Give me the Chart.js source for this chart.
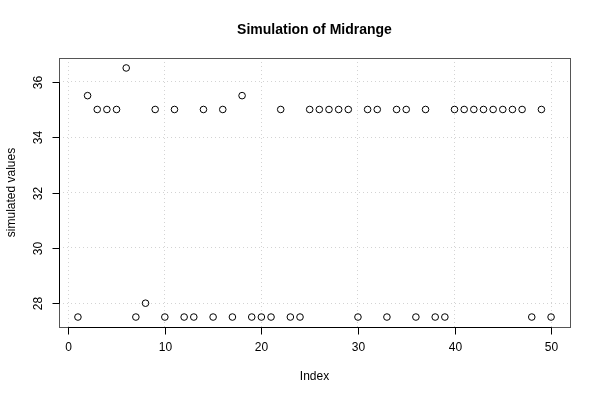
<!DOCTYPE html>
<html>
<head>
<meta charset="utf-8">
<script src="https://cdn.jsdelivr.net/npm/chart.js@4"></script>
<style>
  body { margin: 0; background: #fff; }
  #wrap { width: 600px; height: 400px; }
</style>
</head>
<body>
<div id="wrap"><canvas id="my-chart" width="600" height="400"></canvas></div>
<script>
'use strict';

// *** DATA ***

let indexValues = [];
for (let i = 1; i <= 50; i++) { indexValues.push(i); }

let simulatedValues = [
  27.5, 35.5, 35, 35, 35, 36.5, 27.5, 28, 35, 27.5,
  35, 27.5, 27.5, 35, 27.5, 35, 27.5, 35.5, 27.5, 27.5,
  27.5, 35, 27.5, 27.5, 35, 35, 35, 35, 35, 27.5,
  35, 35, 27.5, 35, 35, 27.5, 35, 27.5, 27.5, 35,
  35, 35, 35, 35, 35, 35, 35, 27.5, 35, 27.5
];

let xTicks = [0, 10, 20, 30, 40, 50];
let yTicks = [28, 30, 32, 34, 36];

let chartTitle = 'Simulation of Midrange';
let xTitle = 'Index';
let yTitle = 'simulated values';

// *** HELPERS ***

let fontName = '"Liberation Sans", Arial, Helvetica, sans-serif';

let points = indexValues.map((x, i) => ({ x: x, y: simulatedValues[i] }));

// draws R-style box, axes, ticks and labels from the chart scales
let rAxesPlugin = {
  id: 'rAxes',
  afterDraw(chart) {
    let ctx = chart.ctx;
    let area = chart.chartArea;
    let xs = chart.scales.x;
    let ys = chart.scales.y;
    ctx.save();

    // box
    ctx.strokeStyle = '#555';
    ctx.lineWidth = 1;
    ctx.strokeRect(area.left + 0.5, area.top + 0.5, area.right - area.left, area.bottom - area.top);

    ctx.strokeStyle = '#000';
    ctx.fillStyle = '#000';
    ctx.font = '12px ' + fontName;

    // x axis
    let x0 = Math.round(xs.getPixelForValue(xTicks[0])) + 0.5;
    let x1 = Math.round(xs.getPixelForValue(xTicks[xTicks.length - 1])) + 0.5;
    let yb = area.bottom + 0.5;
    ctx.beginPath();
    ctx.moveTo(x0, yb);
    ctx.lineTo(x1, yb);
    ctx.stroke();
    ctx.textAlign = 'center';
    ctx.textBaseline = 'middle';
    xTicks.forEach(t => {
      let px = Math.round(xs.getPixelForValue(t)) + 0.5;
      ctx.beginPath();
      ctx.moveTo(px, yb);
      ctx.lineTo(px, yb + 7);
      ctx.stroke();
      ctx.fillText(String(t), px, area.bottom + 21);
    });

    // y axis
    let xl = area.left + 0.5;
    let ya = Math.round(ys.getPixelForValue(yTicks[0])) + 0.5;
    let yz = Math.round(ys.getPixelForValue(yTicks[yTicks.length - 1])) + 0.5;
    ctx.beginPath();
    ctx.moveTo(xl, ya);
    ctx.lineTo(xl, yz);
    ctx.stroke();
    yTicks.forEach(t => {
      let py = Math.round(ys.getPixelForValue(t)) + 0.5;
      ctx.beginPath();
      ctx.moveTo(xl, py);
      ctx.lineTo(xl - 7, py);
      ctx.stroke();
      ctx.save();
      ctx.translate(area.left - 20, py);
      ctx.rotate(-Math.PI / 2);
      ctx.fillText(String(t), 0, 0);
      ctx.restore();
    });

    // titles
    let cx = (area.left + area.right) / 2;
    ctx.font = 'bold 14px ' + fontName;
    ctx.fillText(chartTitle, cx, 30);
    ctx.font = '12px ' + fontName;
    ctx.fillText(xTitle, cx, 377);
    ctx.save();
    ctx.translate(12, (area.top + area.bottom) / 2);
    ctx.rotate(-Math.PI / 2);
    ctx.fillText(yTitle, 0, 0);
    ctx.restore();

    ctx.restore();
  }
};

// *** CHART ***

let canvasElem = document.getElementById('my-chart');

let myObj = {
  type: 'scatter',
  data: {
    datasets: [{
      label: yTitle,
      data: points,
      pointStyle: 'circle',
      pointRadius: 3.3,
      pointBorderWidth: 1,
      borderColor: '#000',
      backgroundColor: 'rgba(0,0,0,0)'
    }]
  },
  options: {
    responsive: false,
    animation: false,
    layout: { padding: { left: 59, right: 30, top: 58, bottom: 73 } },
    plugins: {
      legend: { display: false },
      tooltip: { enabled: false }
    },
    scales: {
      x: {
        type: 'linear',
        min: -0.96,
        max: 51.96,
        afterBuildTicks: (s) => { s.ticks = xTicks.map(v => ({ value: v })); },
        afterFit: (s) => { s.height = 0; },
        ticks: { display: false },
        border: { display: false, dash: [1, 3] },
        grid: { color: '#d3d3d3', drawTicks: false, lineWidth: 1 }
      },
      y: {
        type: 'linear',
        min: 27.14,
        max: 36.86,
        afterBuildTicks: (s) => { s.ticks = yTicks.map(v => ({ value: v })); },
        afterFit: (s) => { s.width = 0; },
        ticks: { display: false },
        border: { display: false, dash: [1, 3] },
        grid: { color: '#d3d3d3', drawTicks: false, lineWidth: 1 }
      }
    }
  },
  plugins: [rAxesPlugin]
};

new Chart(canvasElem, myObj);
</script>
</body>
</html>
